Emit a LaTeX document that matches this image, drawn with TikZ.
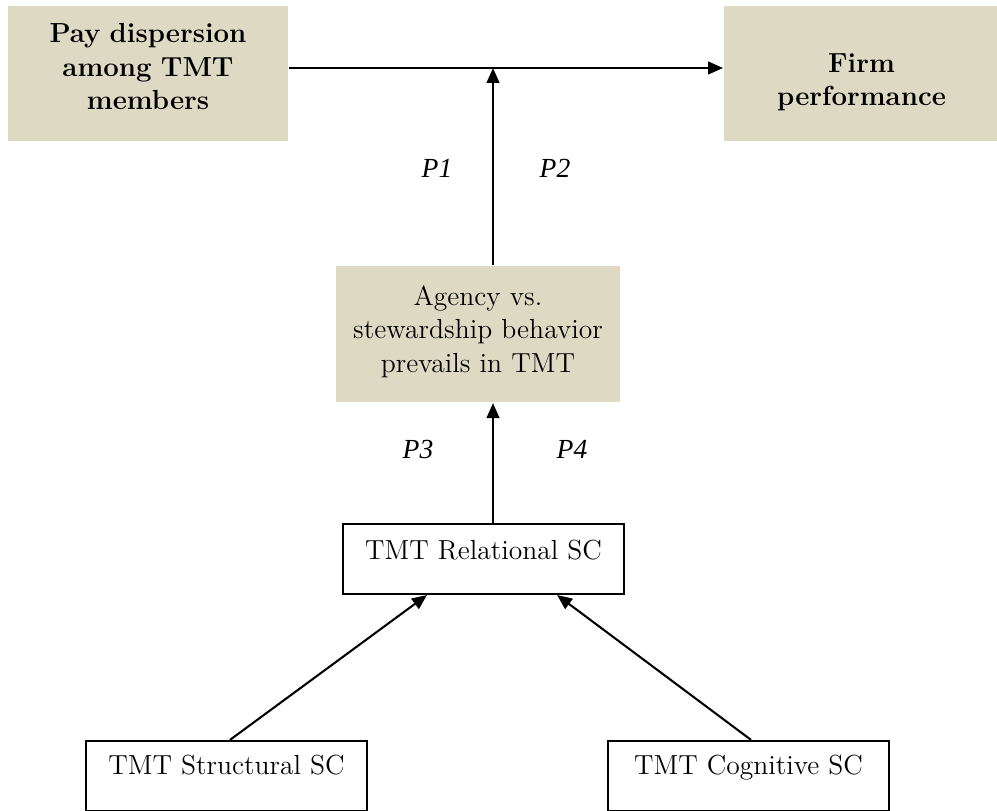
\documentclass[tikz,border=0pt]{standalone}
\usepackage{fontspec}
\newfontfamily\plabelfont{Liberation Serif}
\usetikzlibrary{arrows.meta,positioning}
\usepackage{xcolor}
\definecolor{boxtan}{HTML}{DDD9C3}

\begin{document}
\begin{tikzpicture}[
            x=0.435pt, y=-0.435pt,
            >={Triangle[length=6.5pt,width=5.5pt]},
            line width=0.9pt,
            font=\fontsize{12}{14.5}\selectfont,
            tanbox/.style={fill=boxtan, inner sep=0pt, align=center},
            framebox/.style={draw, inner xsep=0pt, inner ysep=0pt, minimum width=122.2pt},
            plabel/.style={font=\fontsize{12}{14.5}\plabelfont\itshape}
        ]
        \useasboundingbox (0,0) rectangle (997,810);
        \node[tanbox, minimum width=121.8pt, minimum height=58.7pt, text width=115pt] (pay) at (148,73.5) {\bfseries Pay dispersion\\ \bfseries among TMT\\ \bfseries members\rule[-6pt]{0pt}{6pt}};
        \node[tanbox, minimum width=119.6pt, minimum height=58.7pt, text width=110pt] (firm) [right=188.8pt of pay] {\bfseries\rule{0pt}{16pt}Firm\\ \bfseries performance};
        \node[tanbox, minimum width=123.5pt, minimum height=59.2pt, text width=120pt] (agency) at (478,334) {Agency vs.\\ stewardship behavior\\ prevails in TMT\rule[-4.4pt]{0pt}{4.4pt}};
        \node[framebox, text height=15.2pt, text depth=15.2pt] (rel) [below=52.2pt of agency, xshift=2.4pt] {TMT Relational SC};
        \node[framebox, text height=14.8pt, text depth=15.7pt] (str) at (226.5,776) {TMT Structural SC};
        \node[framebox, text height=14.8pt, text depth=15.7pt] (cog) at (748.5,776) {TMT Cognitive SC};
        \coordinate (mid) at (493,68);
        % arrows
        \draw[->] (pay.east |- mid) -- (firm.west |- mid);
        \draw[->] (agency.north -| mid) -- (mid);
        \draw[->] (rel.north -| mid) -- (agency.south -| mid);
        \draw[->] ([xshift=1.5pt]str.north) -- ([xshift=-24.6pt]rel.south);
        \draw[->] ([xshift=1.1pt]cog.north) -- ([xshift=32pt]rel.south);
        % labels
        \node[plabel] (p1) at (437,168) {P1};
        \node[plabel] (p2) at (555,168) {P2};
        \node[plabel] (p3) at (418,449) {P3};
        \node[plabel] (p4) at (572,449) {P4};
        \end{tikzpicture}
\end{document}
